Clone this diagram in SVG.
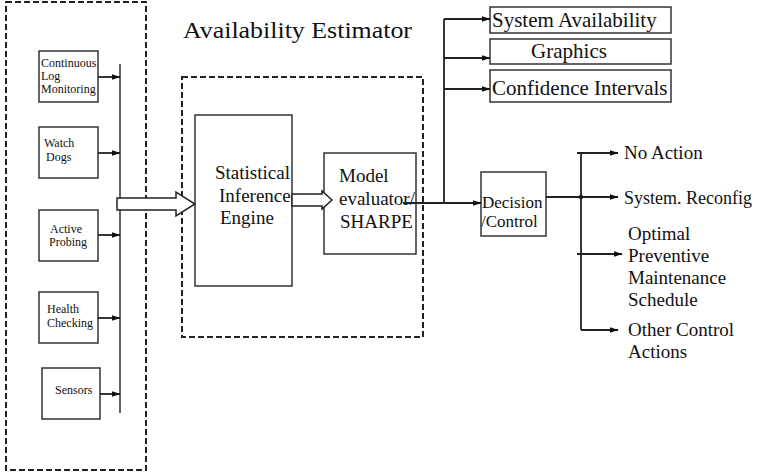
<svg xmlns="http://www.w3.org/2000/svg" width="757" height="473" viewBox="0 0 757 473">
  <style>
    .dash { fill: none; stroke: #222; stroke-width: 2; stroke-dasharray: 6 3; }
    .box { fill: #fff; stroke: #333; stroke-width: 1.5; }
    .line { fill: none; stroke: #222; stroke-width: 1.8; }
    .thin { fill: none; stroke: #333; stroke-width: 1.5; }
    .hollow { fill: #fff; stroke: #222; stroke-width: 1.5; stroke-linejoin: miter; }
    text { font-family: "Liberation Serif", "Times New Roman", serif; fill: #111; }
    .s { font-size: 12px; }
    .m { font-size: 19px; }
    .l { font-size: 21px; }
  </style>
  <defs>
    <marker id="ah" markerWidth="9" markerHeight="7" refX="8.5" refY="3.5" orient="auto" markerUnits="userSpaceOnUse">
      <path d="M0,0.5 L9,3.5 L0,6.5 Z" fill="#111"/>
    </marker>
  </defs>

  <rect width="757" height="473" fill="#fff"/>

  <!-- monitoring sources frame and estimator frame -->
  <rect id="sources-frame" class="dash" x="6" y="2" width="140" height="468"/>
  <rect id="estimator-frame" class="dash" x="182" y="77" width="241" height="260"/>
  <text id="title" x="183" y="38" font-size="23" textLength="229" lengthAdjust="spacingAndGlyphs">Availability Estimator</text>

  <!-- source nodes -->
  <g id="log-monitoring">
    <rect class="box" x="39" y="51" width="59" height="51"/>
    <text class="s" x="41" y="67" font-size="11.5">Continuous</text>
    <text class="s" x="41" y="80" font-size="11.5">Log</text>
    <text class="s" x="41" y="93" font-size="11.5">Monitoring</text>
  </g>
  <g id="watch-dogs">
    <rect class="box" x="39" y="127" width="59" height="51"/>
    <text class="s" x="44" y="147">Watch</text>
    <text class="s" x="46" y="161">Dogs</text>
  </g>
  <g id="active-probing">
    <rect class="box" x="39" y="210" width="59" height="51"/>
    <text class="s" x="50" y="233">Active</text>
    <text class="s" x="49" y="246">Probing</text>
  </g>
  <g id="health-checking">
    <rect class="box" x="39" y="292" width="59" height="51"/>
    <text class="s" x="47" y="313">Health</text>
    <text class="s" x="47" y="327">Checking</text>
  </g>
  <g id="sensors">
    <rect class="box" x="42" y="368" width="58" height="51"/>
    <text class="s" x="55" y="394" font-size="12.5">Sensors</text>
  </g>

  <!-- estimator nodes -->
  <g id="inference-engine">
    <rect class="box" x="195" y="115" width="97" height="171"/>
    <text class="m" x="215" y="179">Statistical</text>
    <text class="m" x="219" y="202">Inference</text>
    <text class="m" x="220" y="224">Engine</text>
  </g>
  <g id="model-evaluator">
    <rect class="box" x="324" y="153" width="92" height="101"/>
    <text class="m" x="339" y="182">Model</text>
    <text class="m" x="339" y="205">evaluator/</text>
    <text class="m" x="340" y="228">SHARPE</text>
  </g>

  <!-- outputs -->
  <g id="system-availability">
    <rect class="box" x="490" y="7" width="181" height="26"/>
    <text class="l" x="492" y="27">System Availability</text>
  </g>
  <g id="graphics">
    <rect class="box" x="490" y="39" width="181" height="25"/>
    <text class="l" x="569" y="58" text-anchor="middle">Graphics</text>
  </g>
  <g id="confidence-intervals">
    <rect class="box" x="490" y="70" width="181" height="32"/>
    <text class="l" x="492" y="95">Confidence Intervals</text>
  </g>
  <g id="decision-control">
    <rect class="box" x="481" y="172" width="65" height="64"/>
    <text x="482" y="208" font-size="17">Decision</text>
    <text x="481" y="227" font-size="17">/Control</text>
  </g>

  <!-- actions -->
  <g id="no-action">
    <text class="m" x="624" y="159">No Action</text>
  </g>
  <g id="reconfig">
    <text x="624" y="204" font-size="18">System. Reconfig</text>
  </g>
  <g id="maintenance">
    <text class="m" x="628" y="240">Optimal</text>
    <text class="m" x="628" y="262">Preventive</text>
    <text class="m" x="628" y="284">Maintenance</text>
    <text class="m" x="628" y="306">Schedule</text>
  </g>
  <g id="other-actions">
    <text class="m" x="628" y="336">Other Control</text>
    <text class="m" x="628" y="358">Actions</text>
  </g>

  <g id="connectors">
    <!-- source bus -->
    <line class="thin" x1="120" y1="64" x2="120" y2="413"/>
    <line class="line" x1="98" y1="77" x2="120" y2="77" marker-end="url(#ah)"/>
    <line class="line" x1="98" y1="153" x2="120" y2="153" marker-end="url(#ah)"/>
    <line class="line" x1="98" y1="235" x2="120" y2="235" marker-end="url(#ah)"/>
    <line class="line" x1="98" y1="318" x2="120" y2="318" marker-end="url(#ah)"/>
    <line class="line" x1="100" y1="394" x2="120" y2="394" marker-end="url(#ah)"/>

    <!-- hollow block arrows -->
    <path class="hollow" d="M117,198 L176,198 L176,192 L195,204 L176,216 L176,210 L117,210 Z"/>
    <path class="hollow" d="M292,194 L322,194 L322,191 L332,200 L322,209 L322,206 L292,206 Z"/>

    <!-- results bus -->
    <line class="line" x1="403" y1="203" x2="481" y2="203" marker-end="url(#ah)"/>
    <line class="line" x1="444" y1="19" x2="444" y2="203"/>
    <line class="line" x1="444" y1="19" x2="490" y2="19" marker-end="url(#ah)"/>
    <line class="line" x1="444" y1="58" x2="490" y2="58" marker-end="url(#ah)"/>
    <line class="line" x1="444" y1="89" x2="490" y2="89" marker-end="url(#ah)"/>

    <!-- control bus -->
    <line class="line" x1="546" y1="197" x2="581" y2="197"/>
    <circle cx="581" cy="197" r="2.2" fill="#111"/>
    <line class="line" x1="581" y1="153" x2="581" y2="330"/>
    <line class="line" x1="577" y1="153" x2="618" y2="153" marker-end="url(#ah)"/>
    <line class="line" x1="581" y1="197" x2="618" y2="197" marker-end="url(#ah)"/>
    <line class="line" x1="577" y1="254" x2="622" y2="254" marker-end="url(#ah)"/>
    <line class="line" x1="581" y1="330" x2="618" y2="330" marker-end="url(#ah)"/>
  </g>
</svg>
